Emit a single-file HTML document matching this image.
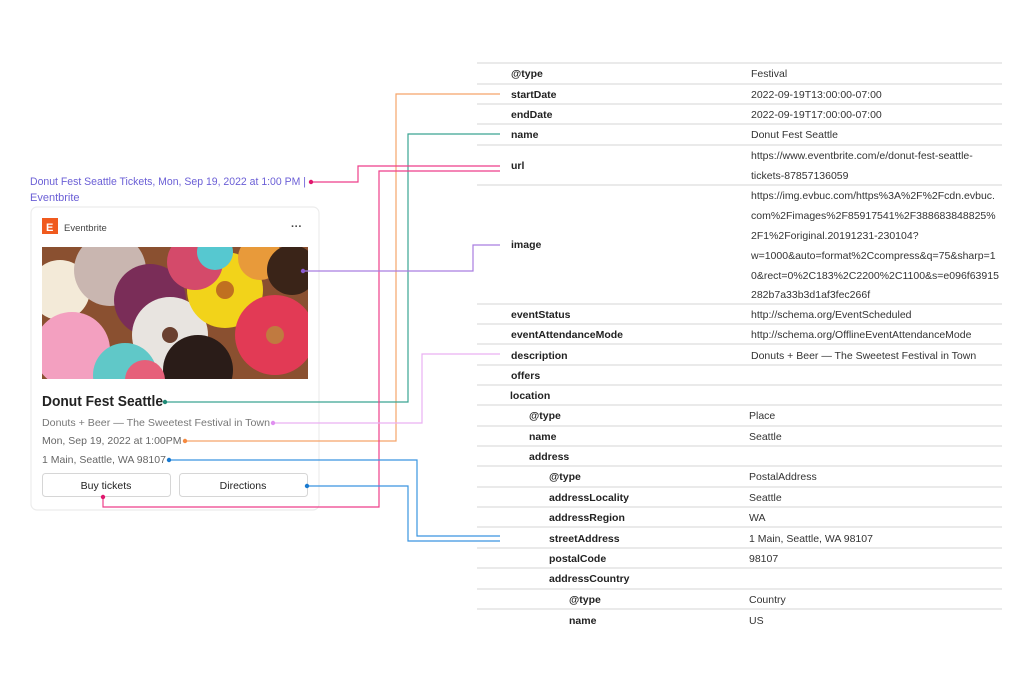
<!DOCTYPE html>
<html><head><meta charset="utf-8"><style>
html,body{margin:0;padding:0;background:#fff;width:1024px;height:683px;overflow:hidden}
svg{display:block}
text{font-family:"Liberation Sans",sans-serif}
.k{font-size:10.5px;font-weight:bold;fill:#222}
.v{font-size:10.5px;fill:#333}
</style></head><body>
<svg width="1024" height="683" viewBox="0 0 1024 683">
<g stroke="#e4e4e4" stroke-width="1.5">
<line x1="477" x2="1002" y1="63" y2="63"/><line x1="477" x2="1002" y1="84" y2="84"/>
<line x1="477" x2="1002" y1="104" y2="104"/><line x1="477" x2="1002" y1="124" y2="124"/>
<line x1="477" x2="1002" y1="145" y2="145"/><line x1="477" x2="1002" y1="185" y2="185"/>
<line x1="477" x2="1002" y1="304" y2="304"/><line x1="477" x2="1002" y1="324" y2="324"/>
<line x1="477" x2="1002" y1="344" y2="344"/><line x1="477" x2="1002" y1="365" y2="365"/>
<line x1="477" x2="1002" y1="385" y2="385"/><line x1="477" x2="1002" y1="405" y2="405"/>
<line x1="477" x2="1002" y1="426" y2="426"/><line x1="477" x2="1002" y1="446" y2="446"/>
<line x1="477" x2="1002" y1="466" y2="466"/><line x1="477" x2="1002" y1="487" y2="487"/>
<line x1="477" x2="1002" y1="507" y2="507"/><line x1="477" x2="1002" y1="527" y2="527"/>
<line x1="477" x2="1002" y1="548" y2="548"/><line x1="477" x2="1002" y1="568" y2="568"/>
<line x1="477" x2="1002" y1="589" y2="589"/><line x1="477" x2="1002" y1="609" y2="609"/>
</g>
<g>
<text class="k" x="511" y="77">@type</text><text class="v" x="751" y="77">Festival</text>
<text class="k" x="511" y="98">startDate</text><text class="v" x="751" y="98">2022-09-19T13:00:00-07:00</text>
<text class="k" x="511" y="118">endDate</text><text class="v" x="751" y="118">2022-09-19T17:00:00-07:00</text>
<text class="k" x="511" y="138">name</text><text class="v" x="751" y="138">Donut Fest Seattle</text>
<text class="k" x="511" y="169">url</text>
<text class="v" x="751" y="159">https://www.eventbrite.com/e/donut-fest-seattle-</text>
<text class="v" x="751" y="179">tickets-87857136059</text>
<text class="k" x="511" y="248">image</text>
<text class="v" x="751" y="199">https://img.evbuc.com/https%3A%2F%2Fcdn.evbuc.</text>
<text class="v" x="751" y="219">com%2Fimages%2F85917541%2F388683848825%</text>
<text class="v" x="751" y="239">2F1%2Foriginal.20191231-230104?</text>
<text class="v" x="751" y="259">w=1000&amp;auto=format%2Ccompress&amp;q=75&amp;sharp=1</text>
<text class="v" x="751" y="279">0&amp;rect=0%2C183%2C2200%2C1100&amp;s=e096f63915</text>
<text class="v" x="751" y="298">282b7a33b3d1af3fec266f</text>
<text class="k" x="511" y="318">eventStatus</text><text class="v" x="751" y="318">http://schema.org/EventScheduled</text>
<text class="k" x="511" y="338">eventAttendanceMode</text><text class="v" x="751" y="338">http://schema.org/OfflineEventAttendanceMode</text>
<text class="k" x="511" y="359">description</text><text class="v" x="751" y="359">Donuts + Beer — The Sweetest Festival in Town</text>
<text class="k" x="511" y="379">offers</text>
<text class="k" x="510" y="399">location</text>
<text class="k" x="529" y="419">@type</text><text class="v" x="749" y="419">Place</text>
<text class="k" x="529" y="440">name</text><text class="v" x="749" y="440">Seattle</text>
<text class="k" x="529" y="460">address</text>
<text class="k" x="549" y="480">@type</text><text class="v" x="749" y="480">PostalAddress</text>
<text class="k" x="549" y="501">addressLocality</text><text class="v" x="749" y="501">Seattle</text>
<text class="k" x="549" y="521">addressRegion</text><text class="v" x="749" y="521">WA</text>
<text class="k" x="549" y="542">streetAddress</text><text class="v" x="749" y="542">1 Main, Seattle, WA 98107</text>
<text class="k" x="549" y="562">postalCode</text><text class="v" x="749" y="562">98107</text>
<text class="k" x="549" y="582">addressCountry</text>
<text class="k" x="569" y="603">@type</text><text class="v" x="749" y="603">Country</text>
<text class="k" x="569" y="624">name</text><text class="v" x="749" y="624">US</text>
</g>

<text x="30" y="185" font-size="11" fill="#6b5fd6" textLength="276" lengthAdjust="spacingAndGlyphs">Donut Fest Seattle Tickets, Mon, Sep 19, 2022 at 1:00 PM |</text>
<text x="30" y="201" font-size="11" fill="#6b5fd6">Eventbrite</text>

<rect x="31" y="207" width="288" height="303" rx="6" fill="#fff" stroke="#ececec" stroke-width="1.2"/>
<rect x="42" y="218" width="16" height="16" fill="#f05a1e"/>
<text x="46" y="231" font-size="11" font-weight="bold" fill="#fff">E</text>
<text x="64" y="231" font-size="9.5" fill="#444">Eventbrite</text>
<text x="291" y="230" font-size="11" font-weight="bold" fill="#444">···</text>
<defs><clipPath id="c"><rect x="42" y="247" width="266" height="132"/></clipPath></defs>
<g clip-path="url(#c)">
<rect x="42" y="247" width="266" height="132" fill="#8a5030"/>
<circle cx="60" cy="290" r="30" fill="#f3ead8"/>
<circle cx="110" cy="270" r="36" fill="#c9b6b0"/>
<circle cx="150" cy="300" r="36" fill="#7a2d58"/>
<circle cx="72" cy="350" r="38" fill="#f3a0c0"/>
<circle cx="170" cy="335" r="38" fill="#e8e4e0"/>
<circle cx="225" cy="290" r="38" fill="#f2d31a"/>
<circle cx="195" cy="262" r="28" fill="#d44a6a"/>
<circle cx="215" cy="252" r="18" fill="#56c8d0"/>
<circle cx="260" cy="258" r="22" fill="#e89a3a"/>
<circle cx="292" cy="270" r="25" fill="#3a2418"/>
<circle cx="275" cy="335" r="40" fill="#e23a55"/>
<circle cx="198" cy="370" r="35" fill="#2a1c18"/>
<circle cx="125" cy="375" r="32" fill="#60c8c8"/>
<circle cx="145" cy="380" r="20" fill="#e6607a"/>
<circle cx="225" cy="290" r="9" fill="#c07020"/>
<circle cx="275" cy="335" r="9" fill="#c07a40"/>
<circle cx="170" cy="335" r="8" fill="#6a4030"/>
</g>
<text x="42" y="406" font-size="14.5" font-weight="bold" fill="#222" textLength="121" lengthAdjust="spacingAndGlyphs">Donut Fest Seattle</text>
<text x="42" y="426" font-size="10.5" fill="#777" textLength="228" lengthAdjust="spacingAndGlyphs">Donuts + Beer — The Sweetest Festival in Town</text>
<text x="42" y="444" font-size="10.5" fill="#666">Mon, Sep 19, 2022 at 1:00PM</text>
<text x="42" y="463" font-size="10.5" fill="#666">1 Main, Seattle, WA 98107</text>
<rect x="42.5" y="473.5" width="128" height="23" rx="3" fill="#fff" stroke="#d6d6d6"/>
<rect x="179.5" y="473.5" width="128" height="23" rx="3" fill="#fff" stroke="#d6d6d6"/>
<text x="106" y="489" font-size="10.5" text-anchor="middle" fill="#222">Buy tickets</text>
<text x="243" y="489" font-size="10.5" text-anchor="middle" fill="#222">Directions</text>

<g fill="none" stroke-width="1.2">
<polyline stroke="#f5a56a" points="500,94 396,94 396,441 185,441"/>
<polyline stroke="#3aa592" points="500,134 408,134 408,402 165,402"/>
<polyline stroke="#ee3f8a" points="500,166 358,166 358,182 311,182"/>
<polyline stroke="#ee3f8a" points="500,171 379,171 379,507 103,507 103,497"/>
<polyline stroke="#a97de0" points="500,245 473,245 473,271 303,271"/>
<polyline stroke="#eab0f2" points="500,354 422,354 422,423 273,423"/>
<polyline stroke="#3a95e0" points="500,536 417,536 417,460 169,460"/>
<polyline stroke="#3a95e0" points="500,541 408,541 408,486 307,486"/>
</g>
<g>
<circle cx="311" cy="182" r="2.2" fill="#e0186e"/>
<circle cx="103" cy="497" r="2.2" fill="#e0186e"/>
<circle cx="165" cy="402" r="2.2" fill="#1f8a76"/>
<circle cx="185" cy="441" r="2.2" fill="#f58a40"/>
<circle cx="303" cy="271" r="2.2" fill="#8a5ad0"/>
<circle cx="273" cy="423" r="2.2" fill="#e090f0"/>
<circle cx="169" cy="460" r="2.2" fill="#1a7ad0"/>
<circle cx="307" cy="486" r="2.2" fill="#1a7ad0"/>
</g>
</svg>
</body></html>
